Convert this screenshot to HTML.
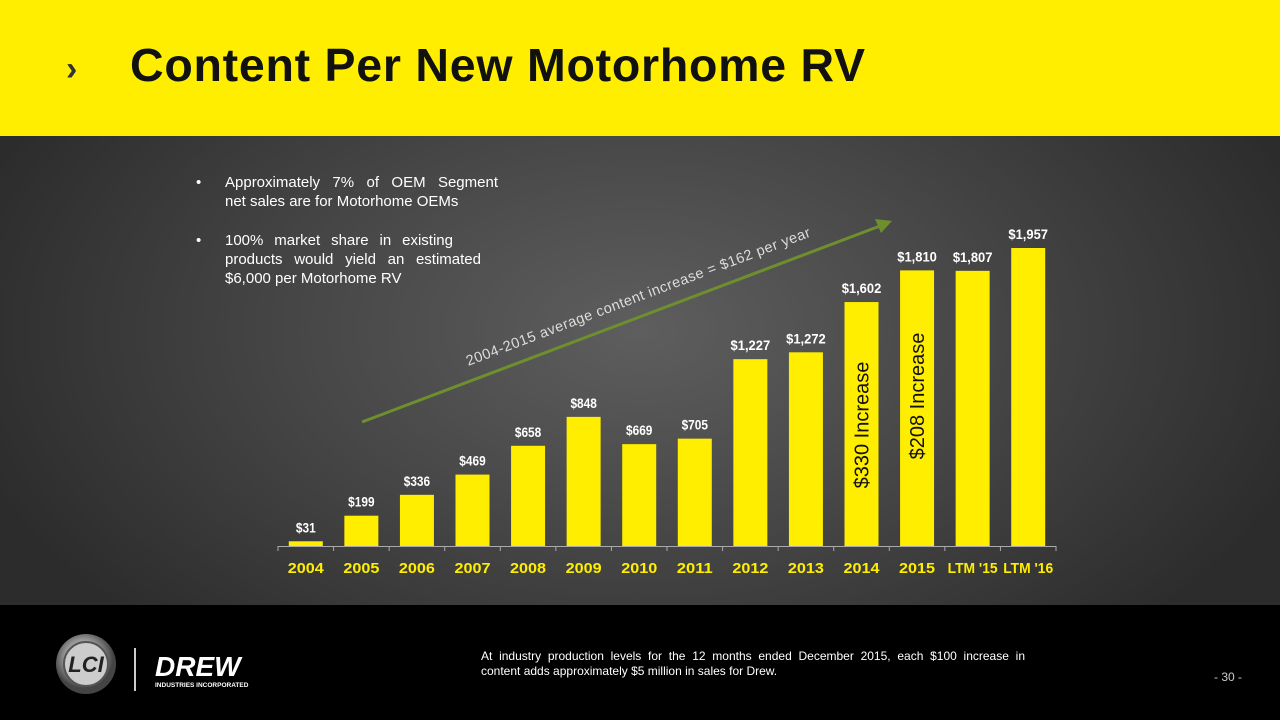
<!DOCTYPE html>
<html><head><meta charset="utf-8"><style>
html,body{margin:0;padding:0}
body{width:1280px;height:720px;position:relative;overflow:hidden;font-family:"Liberation Sans",sans-serif;background:radial-gradient(ellipse 700px 420px at 640px 330px,#5e5e5e 0%,#464646 50%,#2c2c2c 100%)}
#hdr{position:absolute;left:0;top:0;width:1280px;height:136px;background:#ffee00}
#title{position:absolute;left:130px;top:38px;font-size:46.5px;font-weight:bold;color:#111;letter-spacing:0.75px}
#chev{position:absolute;left:66px;top:50px;font-size:34px;font-weight:bold;color:#333}
#ftr{position:absolute;left:0;top:605px;width:1280px;height:115px;background:#000}
.bul{position:absolute;left:196px;color:#fff;font-size:15px;line-height:19px;width:302px}
.bul span{position:absolute;left:0}
.bul > div{margin-left:29px}
.j{text-align:justify;text-align-last:justify}
</style></head><body>
<div id="hdr"></div>
<div id="chev">›</div>
<div id="title">Content Per New Motorhome RV</div>
<div class="bul" style="top:173px"><span>•</span><div><div class="j">Approximately 7% of OEM Segment</div><div>net sales are for Motorhome OEMs</div></div></div>
<div class="bul" style="top:231px"><span>•</span><div><div style="width:228px" class="j">100% market share in existing</div><div style="width:256px" class="j">products would yield an estimated</div><div>$6,000 per Motorhome RV</div></div></div>
<svg id="chart" width="1280" height="720" style="position:absolute;left:0;top:0"></svg>
<div id="ftr">
<svg width="240" height="100" style="position:absolute;left:40px;top:5px">
<defs><radialGradient id="g1" cx="45%" cy="40%"><stop offset="0" stop-color="#eee"/><stop offset="0.6" stop-color="#999"/><stop offset="1" stop-color="#444"/></radialGradient></defs>
<circle cx="46" cy="54" r="30" fill="url(#g1)"/><circle cx="46" cy="54" r="22" fill="#ccc" stroke="#555" stroke-width="2"/>
<text x="46" y="62" font-size="22" font-weight="bold" font-style="italic" text-anchor="middle" fill="#222">LCI</text>
<rect x="94" y="38" width="2" height="43" fill="#ccc"/>
<text x="115" y="66" font-size="28" font-weight="bold" font-style="italic" fill="#fff">DREW</text>
<text x="115" y="77" font-size="6.5" font-weight="bold" fill="#fff">INDUSTRIES INCORPORATED</text>
</svg>
<div style="position:absolute;left:481px;top:44px;width:544px;font-size:12px;line-height:15px;color:#fff"><div class="j">At industry production levels for the 12 months ended December 2015, each $100 increase in</div><div>content adds approximately $5 million in sales for Drew.</div></div>
<div style="position:absolute;left:1214px;top:65px;font-size:12px;color:#ccc">- 30 -</div>
</div>
<script>
const categories=["2004","2005","2006","2007","2008","2009","2010","2011","2012","2013","2014","2015","LTM '15","LTM '16"];
const values=[31,199,336,469,658,848,669,705,1227,1272,1602,1810,1807,1957];
const valueLabels=["$31","$199","$336","$469","$658","$848","$669","$705","$1,227","$1,272","$1,602","$1,810","$1,807","$1,957"];
const NS="http://www.w3.org/2000/svg";
const svg=document.getElementById('chart');
const x0=278,x1=1056,base=546,pxPer=298/1957;
const band=(x1-x0)/categories.length;
const xc=i=>x0+band*(i+0.5);
const y=v=>base-v*pxPer;
function mk(t,a){const e=document.createElementNS(NS,t);for(const k in a)e.setAttribute(k,a[k]);svg.appendChild(e);return e;}
categories.forEach((c,i)=>{
 const r=mk('rect',{x:xc(i)-17,y:y(values[i]),width:34,height:base-y(values[i]),fill:'#ffee00'});
 
 
 const t=mk('text',{x:xc(i),y:y(values[i])-9,'text-anchor':'middle','font-size':14,'font-weight':'bold',fill:'#fff',textLength:valueLabels[i].length*6.6,lengthAdjust:'spacingAndGlyphs'});
 t.textContent=valueLabels[i];
 
 
 const l=mk('text',{x:xc(i),y:573,'text-anchor':'middle','font-size':15,'font-weight':'bold',fill:'#ffee00',textLength:c.length>4?50:36,lengthAdjust:'spacingAndGlyphs'});
 l.textContent=c;
 
 
});
const ax=mk('line',{x1:x0,y1:base+0.5,x2:x1,y2:base+0.5,stroke:'#aaa','stroke-width':1});


for(let i=0;i<=categories.length;i++){const tk=mk('line',{x1:x0+band*i,y1:base,x2:x0+band*i,y2:base+5,stroke:'#aaa'});}
const ar=mk('line',{x1:362,y1:422,x2:880,y2:226,stroke:'#6f8f2f','stroke-width':3});


const ah=mk('polygon',{points:'892,221 875,219 881,233',fill:'#6f8f2f'});


const tt=mk('text',{x:0,y:0,'text-anchor':'middle','font-size':14.5,fill:'#ddd',transform:'translate(640,301) rotate(-20.7)','letter-spacing':'0.5'});
tt.textContent='2004-2015 average content increase = $162 per year';


[[10,'$330 Increase',425],[11,'$208 Increase',396]].forEach(([i,s,cy])=>{
 const v=mk('text',{x:0,y:0,'text-anchor':'middle','font-size':20,fill:'#111',transform:`translate(${xc(i)+7},${cy}) rotate(-90)`});
 v.textContent=s;
 
 
});
</script>
</body></html>
